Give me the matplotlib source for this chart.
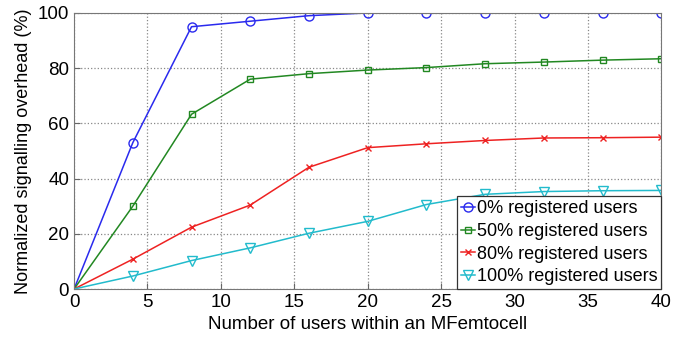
import matplotlib.pyplot as plt

plt.rcParams['font.family'] = ['Liberation Sans', 'DejaVu Sans']

users = [0, 4, 8, 12, 16, 20, 24, 28, 32, 36, 40]

reg_0 = [0, 53, 95, 97, 99, 100, 100, 100, 100, 100, 100]
reg_50 = [0, 30, 63.3, 76, 78, 79.3, 80.2, 81.6, 82.2, 82.9, 83.4]
reg_80 = [0, 10.8, 22.4, 30.4, 44.1, 51.2, 52.6, 53.8, 54.7, 54.8, 55.0]
reg_100 = [0, 4.7, 10.3, 14.9, 20.2, 24.5, 30.6, 34.3, 35.3, 35.6, 35.7]

labels = ['0% registered users', '50% registered users',
          '80% registered users', '100% registered users']

fig = plt.figure(figsize=(6.86, 3.40), dpi=100)
ax = fig.add_axes([0.108, 0.15, 0.856, 0.812])

# no marker on the origin point
mk = slice(1, None)
ax.plot(users, reg_0, color='#2a2aee', marker='o', markersize=6.5, mfc='none', lw=1.1,
        markevery=mk, label=labels[0])
ax.plot(users, reg_50, color='#228822', marker='s', markersize=5, mfc='none', lw=1.1,
        markevery=mk, label=labels[1])
ax.plot(users, reg_80, color='#ee2222', marker='x', markersize=5, mfc='none', lw=1.1,
        markevery=mk, label=labels[2])
ax.plot(users, reg_100, color='#22bbcc', marker='v', markersize=7, mfc='none', lw=1.1,
        markevery=mk, label=labels[3])

ax.set_xlim(0, 40)
ax.set_ylim(0, 100)
ax.set_xticks(range(0, 41, 5))
ax.set_yticks(range(0, 101, 20))
ax.grid(True, linestyle=':', color='#888888', linewidth=0.9)
ax.tick_params(direction='in', labelsize=13.5, length=4, color='#666666')
for s in ax.spines.values():
    s.set_color('#777777')

ax.set_xlabel('Number of users within an MFemtocell', fontsize=13.5)
ax.set_ylabel('Normalized signalling overhead (%)', fontsize=13)

leg = ax.legend(loc='lower right', fontsize=13, borderaxespad=0, handlelength=0.8,
                handletextpad=0.1, borderpad=0.2, labelspacing=0.32, fancybox=False,
                framealpha=1)
leg.get_frame().set_edgecolor('#333333')
leg.get_frame().set_linewidth(0.9)

fig.savefig('out.png', dpi=100)
